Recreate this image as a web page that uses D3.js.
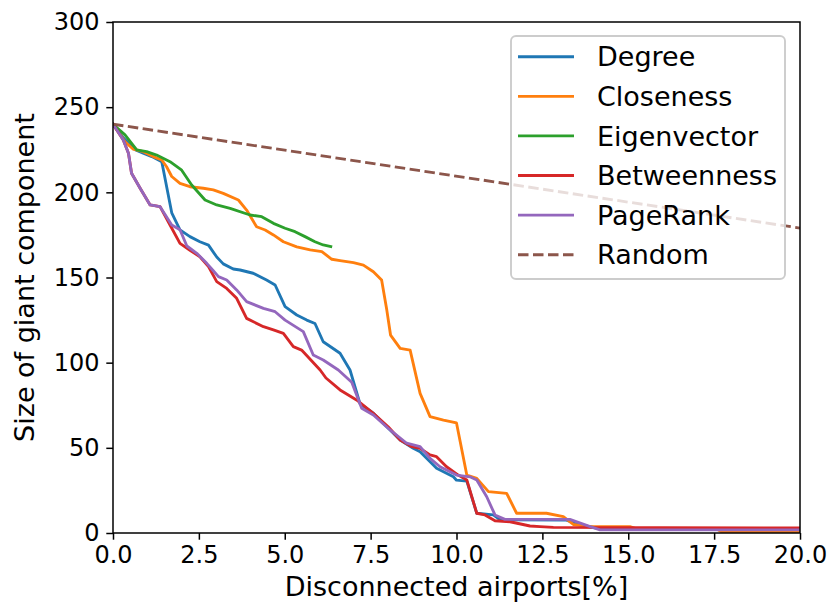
<!DOCTYPE html>
<html>
<head>
<meta charset="utf-8">
<script src="https://cdn.jsdelivr.net/npm/d3@7"></script>
<style>
  html, body { margin: 0; padding: 0; background: #fff; }
  svg text { font-family: "DejaVu Sans", sans-serif; fill: #000; }
</style>
</head>
<body>
<svg id="chart" width="829" height="604"></svg>
<script>
// ---- data ----
const seriesNames = ["Degree", "Closeness", "Eigenvector", "Betweenness", "PageRank", "Random"];
const seriesColors = ["#1f77b4", "#ff7f0e", "#2ca02c", "#d62728", "#9467bd", "#8c564b"];
const xTicks = [0, 2.5, 5, 7.5, 10, 12.5, 15, 17.5, 20];
const yTicks = [0, 50, 100, 150, 200, 250, 300];

const degree = [
  [0,240],[0.3,232],[0.64,225],[0.88,223],[1.13,221],[1.42,218],[1.71,188],[1.95,178],[2.24,174],
  [2.53,171],[2.78,169],[3.02,162],[3.21,158],[3.5,155],[3.7,154.4],[4.08,152.5],[4.47,148.5],
  [4.72,145.6],[5.01,132.9],[5.35,128],[5.64,125],[5.88,123],[6.12,112.3],[6.61,105.5],[6.9,95.7],
  [7.19,76],[7.58,70.3],[7.97,62.4],[8.36,54.6],[8.74,49.7],[8.94,47.7],[9.42,38],[9.91,33],
  [10.0,31],[10.3,30.5],[10.59,11.6],[11.07,10.6],[11.27,7.8],[13.2,7.6],[13.6,4.7],[14.2,2.5],[20,2]
];
const closeness = [
  [0,240],[0.35,229.7],[0.59,225.3],[0.88,223.9],[1.17,221],[1.42,219],[1.56,215],[1.71,209.3],
  [1.95,205.3],[2.24,203.3],[2.63,202.4],[2.92,201.4],[3.21,199.4],[3.65,195.5],[3.89,189.6],
  [4.18,179.8],[4.43,177.9],[4.67,175],[4.96,171],[5.35,168],[5.74,166.2],[6.08,165.2],[6.37,160.7],
  [6.61,159.9],[7.0,158.7],[7.29,157.3],[7.58,153.4],[7.82,148.5],[7.97,131],[8.08,116.2],
  [8.36,108.4],[8.65,107.4],[8.94,82],[9.23,68.3],[9.62,66.3],[10.0,64.6],[10.3,34],[10.59,32.1],
  [10.93,24.3],[11.46,23.3],[11.75,11.6],[12.62,11.6],[13.11,9.6],[13.4,5],[13.89,3.7],[15.05,3.7],
  [15.25,2.5],[17.6,2],[17.7,0.8],[20,0.8]
];
const eigenvector = [
  [0,240],[0.35,233.7],[0.69,224.9],[0.98,223.9],[1.27,221.9],[1.66,218],[2.0,213],[2.29,204.3],
  [2.68,195.5],[3.02,192.6],[3.41,190.6],[3.99,186.7],[4.33,185.7],[4.67,181.8],[5.01,178.9],
  [5.30,176.9],[5.59,174],[5.88,171],[6.12,169.1],[6.34,168.1]
];
const betweenness = [
  [0,240],[0.3,230.7],[0.45,223],[0.54,211.2],[0.79,202.4],[1.08,192.6],[1.37,191.6],[1.66,180.8],
  [1.95,170],[2.24,166],[2.53,162.2],[2.78,156.4],[3.02,147.6],[3.31,143.6],[3.6,137.8],[3.89,126],
  [4.38,121.1],[4.67,119.2],[4.96,117.2],[5.25,109.4],[5.49,107.4],[6.03,95.7],[6.2,91],[6.61,84],
  [7.09,78.1],[7.58,70.3],[8.01,62.4],[8.36,54.6],[8.7,50.7],[8.94,49.7],[9.23,45.8],[9.42,44.8],
  [9.71,38.9],[10.05,34],[10.3,31.1],[10.59,11.6],[10.83,10.6],[11.12,7.2],[11.56,6.6],[12.14,4.1],
  [12.43,3.7],[12.82,3.3],[20,3]
];
const pagerank = [
  [0,240],[0.3,230.7],[0.45,223],[0.54,211.2],[0.79,202.4],[1.08,192.6],[1.37,191.6],[1.71,180.8],
  [1.95,178],[2.15,168.5],[2.44,164.2],[2.73,158.3],[2.92,154],[3.07,150.5],[3.31,148.5],[3.6,142.7],
  [3.89,135.8],[4.38,131.9],[4.72,129.9],[5.01,125],[5.54,118.2],[5.83,104.5],[6.12,101.6],
  [6.56,95.7],[6.95,88.5],[7.24,73.2],[7.58,69.3],[8.01,61.5],[8.55,52.7],[8.94,50.7],[9.23,43.8],
  [9.52,38.9],[10.0,34],[10.39,33],[10.59,31.1],[10.88,21.3],[11.12,10.6],[11.41,8],[13.3,8],
  [13.89,3.7],[14.18,1.8],[20,1.8]
];
const random = [[0,240],[20,179]];

const seriesData = [degree, closeness, eigenvector, betweenness, pagerank, random];

// ---- layout ----
const svg = d3.select("#chart");
const margin = {left: 113, right: 29, top: 22, bottom: 71};
const W = 829, H = 604;
const x = d3.scaleLinear().domain([0, 20]).range([margin.left, W - margin.right]);
const y = d3.scaleLinear().domain([0, 300]).range([H - margin.bottom, margin.top]);
const tickFont = 24;
const labelFont = 27;
const lw = 2.85;

const clipId = "plotclip";
svg.append("defs").append("clipPath").attr("id", clipId)
  .append("rect").attr("x", x(0)).attr("y", y(300)).attr("width", x(20) - x(0)).attr("height", y(0) - y(300));

const line = d3.line().x(d => x(d[0])).y(d => y(d[1]));
const g = svg.append("g").attr("clip-path", `url(#${clipId})`);
seriesData.forEach((data, i) => {
  g.append("path")
    .datum(data)
    .attr("d", line)
    .attr("fill", "none")
    .attr("stroke", seriesColors[i])
    .attr("stroke-width", lw)
    .attr("stroke-linejoin", "round")
    .attr("stroke-linecap", i === 5 ? "butt" : "square")
    .attr("stroke-dasharray", i === 5 ? "10.5,4.5" : null);
});

// axes
const xAxis = d3.axisBottom(x).tickValues(xTicks).tickFormat(d3.format(".1f")).tickSizeOuter(0).tickSize(6.7).tickPadding(6.7);
const yAxis = d3.axisLeft(y).tickValues(yTicks).tickFormat(d3.format("d")).tickSizeOuter(0).tickSize(6.7).tickPadding(6.7);
const gx = svg.append("g").attr("transform", `translate(0,${y(0)})`).call(xAxis);
const gy = svg.append("g").attr("transform", `translate(${x(0)},0)`).call(yAxis);
[gx, gy].forEach(a => {
  a.select(".domain").remove();
  a.selectAll("line").attr("stroke", "#000").attr("stroke-width", 1.5);
  a.selectAll("text").style("font-size", tickFont + "px").style("font-family", "DejaVu Sans").attr("fill", "#000");
});

// frame
svg.append("rect")
  .attr("x", x(0)).attr("y", y(300))
  .attr("width", x(20) - x(0)).attr("height", y(0) - y(300))
  .attr("fill", "none").attr("stroke", "#000").attr("stroke-width", 1.5);

// axis labels
svg.append("text")
  .attr("x", (x(0) + x(20)) / 2).attr("y", 596)
  .attr("text-anchor", "middle").style("font-size", labelFont + "px")
  .text("Disconnected airports[%]");
svg.append("text")
  .attr("transform", `translate(34,${(y(0) + y(300)) / 2}) rotate(-90)`)
  .attr("text-anchor", "middle").style("font-size", labelFont + "px")
  .text("Size of giant component");

// legend
const lg = svg.append("g");
lg.append("rect")
  .attr("x", 511).attr("y", 36).attr("width", 274).attr("height", 243)
  .attr("rx", 5).attr("ry", 5)
  .attr("fill", "#fff").attr("fill-opacity", 0.8)
  .attr("stroke", "#cccccc").attr("stroke-width", 1.9);
seriesNames.forEach((name, i) => {
  const cy = 56.7 + i * 39.6;
  lg.append("line")
    .attr("x1", 518).attr("x2", 574).attr("y1", cy).attr("y2", cy)
    .attr("stroke", seriesColors[i]).attr("stroke-width", lw)
    .attr("stroke-dasharray", i === 5 ? "10.5,4.5" : null);
  lg.append("text")
    .attr("x", 597).attr("y", cy).attr("dy", "0.36em")
    .style("font-size", labelFont + "px")
    .text(name);
});
</script>
</body>
</html>
